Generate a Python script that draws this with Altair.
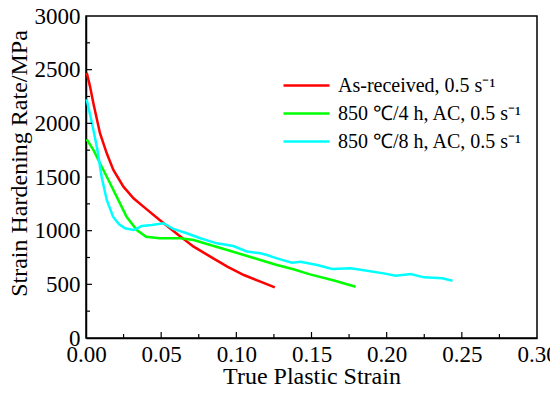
import altair as alt
import pandas as pd

# ---- data ----
series_names = ["As-received, 0.5 s⁻¹", "850 ℃/4 h, AC, 0.5 s⁻¹", "850 ℃/8 h, AC, 0.5 s⁻¹"]
series_colors = ["#ff0000", "#00ff00", "#00ffff"]

red_x = [0.0005, 0.0027, 0.0049, 0.0093, 0.0138, 0.0182, 0.0249, 0.0316, 0.0382, 0.049, 0.060, 0.0716, 0.0827, 0.094, 0.105, 0.116, 0.1256]
red_y = [2470, 2342, 2187, 1908, 1721, 1566, 1410, 1302, 1224, 1100, 976, 851, 758, 665, 587, 525, 472]

green_x = [0.0004, 0.005, 0.0093, 0.0149, 0.0204, 0.027, 0.0338, 0.040, 0.049, 0.063, 0.0716, 0.0827, 0.094, 0.105, 0.116, 0.127, 0.138, 0.149, 0.165, 0.1793]
green_y = [1852, 1750, 1628, 1472, 1317, 1130, 1006, 944, 929, 929, 913, 867, 820, 773, 727, 680, 640, 593, 535, 478]

cyan_x = [0.0004, 0.004, 0.0075, 0.0104, 0.0138, 0.018, 0.022, 0.026, 0.0316, 0.034, 0.037, 0.0438, 0.0516, 0.058, 0.067, 0.076, 0.0871, 0.098, 0.107, 0.116, 0.1204, 0.127, 0.137, 0.1427, 0.1538, 0.1638, 0.176, 0.187, 0.198, 0.206, 0.216, 0.2249, 0.237, 0.2438]
cyan_y = [2225, 2000, 1760, 1500, 1286, 1130, 1060, 1022, 1006, 1020, 1044, 1053, 1069, 1016, 976, 929, 882, 857, 806, 790, 773, 742, 702, 711, 680, 643, 649, 627, 602, 581, 596, 565, 556, 534]

x_major = [0.05, 0.10, 0.15, 0.20, 0.25]
x_minor = [0.025, 0.075, 0.125, 0.175, 0.225, 0.275]
y_major = [500, 1000, 1500, 2000, 2500]
y_minor = [250, 750, 1250, 1750, 2250, 2750]

FONT = "Liberation Serif"

rows = []
for name, xs, ys in zip(series_names, [red_x, green_x, cyan_x], [red_y, green_y, cyan_y]):
    for i, (a, b) in enumerate(zip(xs, ys)):
        rows.append({"series": name, "x": a, "y": b, "order": i})
df = pd.DataFrame(rows)

xscale = alt.Scale(domain=[0, 0.3], nice=False)
yscale = alt.Scale(domain=[0, 3000], nice=False)

lines = alt.Chart(df).mark_line(strokeWidth=2.5).encode(
    x=alt.X("x:Q", scale=xscale,
            axis=alt.Axis(title="True Plastic Strain", values=[0, 0.05, 0.1, 0.15, 0.2, 0.25, 0.3],
                          format=".2f", ticks=False, grid=False, labelPadding=5, labelFlush=False,
                          titleY=45, titleBaseline="alphabetic")),
    y=alt.Y("y:Q", scale=yscale,
            axis=alt.Axis(title="Strain Hardening Rate/MPa", values=[0, 500, 1000, 1500, 2000, 2500, 3000],
                          format="d", ticks=False, grid=False, labelPadding=6, labelFlush=False,
                          titleX=-60, titleY=147, titleBaseline="alphabetic", titleAlign="center")),
    color=alt.Color("series:N", scale=alt.Scale(domain=series_names, range=series_colors),
                    legend=alt.Legend(title=None, orient="none", legendX=209, legendY=58,
                                      symbolType="M-2.3,0H2.3", symbolSize=400, symbolStrokeWidth=2.5,
                                      labelFont=FONT, labelFontSize=20, labelColor="black",
                                      labelLimit=400, rowPadding=6, labelOffset=20)),
    order="order:Q",
)

def xticks(vals, length):
    return alt.Chart(pd.DataFrame({"v": vals})).mark_rule(color="black", strokeWidth=1.2).encode(
        x=alt.X("v:Q", scale=xscale), y=alt.value(322), y2=alt.value(322 - length))

def yticks(vals, length):
    return alt.Chart(pd.DataFrame({"v": vals})).mark_rule(color="black", strokeWidth=1.2).encode(
        y=alt.Y("v:Q", scale=yscale), x=alt.value(0), x2=alt.value(length))

chart = alt.layer(
    lines,
    xticks(x_major, 6), xticks(x_minor, 4),
    yticks(y_major, 6), yticks(y_minor, 4),
).properties(
    width=451, height=322,
    background="white",
    autosize=alt.AutoSizeParams(type="none"),
    padding={"left": 78, "top": 8, "right": 13, "bottom": 48},
).configure_view(
    stroke="black", strokeWidth=1.5
).configure_axis(
    domainColor="black", domainWidth=1.5,
    labelFont=FONT, labelFontSize=23, labelColor="black",
    titleFont=FONT, titleFontSize=24, titleColor="black", titleFontWeight="normal",
)

chart.save("out.html", embed_options={"renderer": "svg", "actions": False})
